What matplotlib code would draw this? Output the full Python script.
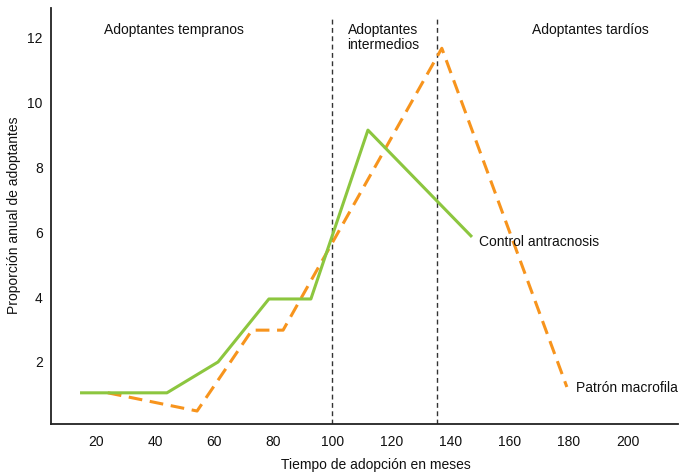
import matplotlib
matplotlib.use("Agg")
import matplotlib.pyplot as plt

plt.rcParams['font.family'] = ['Liberation Sans', 'DejaVu Sans']

# Data
control_x = [14.6, 44.0, 61.3, 78.5, 92.7, 112.0, 147.2]
control_y = [1.05, 1.05, 2.0, 3.94, 3.94, 9.14, 5.85]
patron_x = [24.0, 54.2, 72.8, 83.3, 137.0, 179.3]
patron_y = [1.05, 0.49, 2.98, 2.98, 11.66, 1.23]
divisions = [99.8, 135.2]
xticks = [20, 40, 60, 80, 100, 120, 140, 160, 180, 200]
yticks = [2, 4, 6, 8, 10, 12]
phase_labels = ["Adoptantes tempranos", "Adoptantes\nintermedios", "Adoptantes tardíos"]
phase_x = [46.5, 117.0, 187.4]

fig = plt.figure(figsize=(6.79, 4.75), dpi=100)
ax = fig.add_axes([51/679, 1-424/475, (678-51)/679, (424-8)/475])

ax.plot(control_x, control_y, color='#8CC63F', lw=2.2, solid_capstyle='butt', zorder=3)
ax.plot(patron_x, patron_y, color='#F7941D', lw=2.2, dashes=(4.5, 2.5), zorder=2)
for d in divisions:
    ax.axvline(d, ymax=0.976, color='#333333', lw=1.0, dashes=(3.5, 2.5), zorder=1)

ax.set_xlim(4.78, 216.9)
ax.set_ylim(0.09, 12.9)
ax.set_xticks(xticks)
ax.set_yticks(yticks)
ax.tick_params(length=0, labelsize=10, colors='#111111')
ax.tick_params(axis='x', pad=8)
ax.tick_params(axis='y', pad=6)
for s in ['top', 'right']:
    ax.spines[s].set_visible(False)
for s in ['left', 'bottom']:
    ax.spines[s].set_color('#222222')
    ax.spines[s].set_linewidth(1.3)

for lbl, px in zip(phase_labels, phase_x):
    ax.text(px, 12.45, lbl, ha='center', va='top', fontsize=10, color='#111111', linespacing=1.15)

ax.text(149.5, 5.7, "Control antracnosis", ha='left', va='center', fontsize=10, color='#111111')
ax.text(182.5, 1.2, "Patrón macrofila", ha='left', va='center', fontsize=10, color='#111111')

fig.text(376/679, 1-465/475, "Tiempo de adopción en meses", ha='center', va='center', fontsize=10, color='#111111')
fig.text(14/679, 1-215/475, "Proporción anual de adoptantes", ha='center', va='center', rotation=90, fontsize=10, color='#111111')

fig.savefig("out.png", dpi=100)
